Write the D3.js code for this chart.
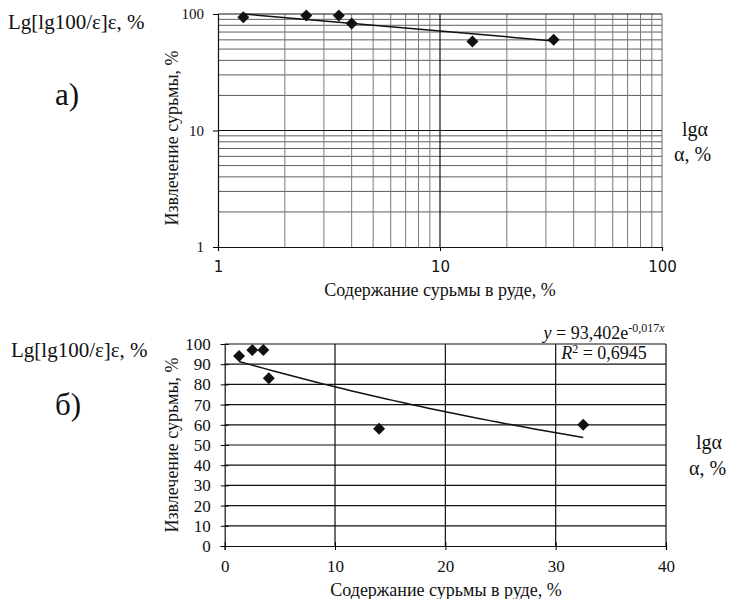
<!DOCTYPE html>
<html>
<head>
<meta charset="utf-8">
<script src="https://cdn.jsdelivr.net/npm/d3@7"></script>
<style>
  html, body { margin: 0; padding: 0; background: #fff; }
  svg { display: block; }
  text { font-family: "Liberation Serif", "Times New Roman", serif; fill: #111; }
</style>
</head>
<body>
<svg id="chart" width="734" height="599"></svg>
<script>
// Antimony content in ore (%) and antimony recovery (%)
const contentPct = [1.3, 2.5, 3.5, 4.0, 14.0, 32.5];
const recoveryPct = [94, 97, 97, 83, 58, 60];

// Tick values
const logTicks = [1, 10, 100];
const linXTicks = [0, 10, 20, 30, 40];
const linYTicks = [0, 10, 20, 30, 40, 50, 60, 70, 80, 90, 100];

// Trend coefficients: power trend (log-log panel), exponential trend (linear panel)
const powA = 104.4, powB = -0.165;
const expA = 93.402, expB = -0.017;

// Text
const axisTitleX = "Содержание сурьмы в руде,  %";
const axisTitleY = "Извлечение сурьмы,  %";
const sideLeft = "Lg[lg100/ε]ε, %";
const sideRight1 = "lgα";
const sideRight2 = "α, %";
const panelA = "а)";
const panelB = "б)";

const serif = "Liberation Serif";
const svg = d3.select("#chart");
const points = contentPct.map((x, i) => ({ x, y: recoveryPct[i] }));
const diamond = "M0,-6L6,0L0,6L-6,0Z";

/* ---------- Panel а): log-log ---------- */
const xTop = d3.scaleLog().domain([1, 100]).range([218, 662]);
const yTop = d3.scaleLog().domain([1, 100]).range([247, 14]);
const gA = svg.append("g");

const minorLog = [];
[1, 10].forEach(dec => { for (let k = 2; k <= 9; k++) minorLog.push(k * dec); });

// minor grid
gA.selectAll("line.hmin").data(minorLog).join("line")
  .attr("x1", xTop(1)).attr("x2", xTop(100))
  .attr("y1", d => yTop(d)).attr("y2", d => yTop(d))
  .attr("stroke", "#5e5e5e").attr("stroke-width", 1);
gA.selectAll("line.vmin").data(minorLog).join("line")
  .attr("y1", yTop(1)).attr("y2", yTop(100))
  .attr("x1", d => xTop(d)).attr("x2", d => xTop(d))
  .attr("stroke", "#7a7a7a").attr("stroke-width", 1);
// major grid + frame
gA.selectAll("line.hmaj").data([10, 100]).join("line")
  .attr("x1", xTop(1)).attr("x2", xTop(100))
  .attr("y1", d => yTop(d)).attr("y2", d => yTop(d))
  .attr("stroke", "#111").attr("stroke-width", 1);
gA.selectAll("line.vmaj").data([10]).join("line")
  .attr("y1", yTop(1)).attr("y2", yTop(100))
  .attr("x1", d => xTop(d)).attr("x2", d => xTop(d))
  .attr("stroke", "#111").attr("stroke-width", 1.2);
gA.append("line").attr("x1", xTop(100)).attr("x2", xTop(100))
  .attr("y1", yTop(1)).attr("y2", yTop(100)).attr("stroke", "#666");

// axes
const axYTop = gA.append("g").attr("transform", `translate(${xTop(1)},0)`)
  .call(d3.axisLeft(yTop).tickValues(logTicks).tickFormat(d3.format("d")).tickSizeOuter(0).tickSize(5).tickPadding(9));
axYTop.select(".domain").attr("stroke", "#111").attr("stroke-width", 1.2);
axYTop.selectAll("text").style("font-family", serif).style("font-size", "15px").attr("fill", "#111");

const axXTop = gA.append("g").attr("transform", `translate(0,${yTop(1)})`)
  .call(d3.axisBottom(xTop).tickValues(logTicks).tickFormat(d3.format("d")).tickSizeOuter(0).tickSize(4).tickPadding(10));
axXTop.select(".domain").attr("stroke", "#111").attr("stroke-width", 1.2);
axXTop.selectAll("text").style("font-family", "DejaVu Sans").style("font-size", "15px").attr("fill", "#222");

// power trend
const powLine = d3.line().x(d => xTop(d)).y(d => yTop(powA * Math.pow(d, powB)));
const xs = d3.extent(contentPct);
gA.append("path").datum(xs).attr("d", powLine)
  .attr("fill", "none").attr("stroke", "#111").attr("stroke-width", 1.5);

gA.selectAll("path.pt").data(points).join("path")
  .attr("d", diamond)
  .attr("transform", d => `translate(${xTop(d.x)},${yTop(d.y)})`)
  .attr("fill", "#111");

gA.append("text").attr("x", 440).attr("y", 296).attr("text-anchor", "middle")
  .style("font-size", "18px").text(axisTitleX);
gA.append("text").attr("transform", "translate(178,138) rotate(-90)").attr("text-anchor", "middle")
  .style("font-size", "18px").text(axisTitleY);

/* ---------- Panel б): linear ---------- */
const xBot = d3.scaleLinear().domain([0, 40]).range([224.7, 666]);
const yBot = d3.scaleLinear().domain([0, 100]).range([546, 344]);
const gB = svg.append("g");

gB.selectAll("line.hg").data(linYTicks.filter(d => d > 0)).join("line")
  .attr("x1", xBot(0)).attr("x2", xBot(40))
  .attr("y1", d => yBot(d)).attr("y2", d => yBot(d))
  .attr("stroke", "#111").attr("stroke-width", 1.2);
gB.selectAll("line.vg").data(linXTicks.filter(d => d > 0)).join("line")
  .attr("y1", yBot(0)).attr("y2", yBot(100))
  .attr("x1", d => xBot(d)).attr("x2", d => xBot(d))
  .attr("stroke", "#111").attr("stroke-width", 1.2);

const axYBot = gB.append("g").attr("transform", `translate(${xBot(0)},0)`)
  .call(d3.axisLeft(yBot).tickValues(linYTicks).tickSizeOuter(0).tickSize(4).tickPadding(10));
axYBot.select(".domain").attr("stroke", "#111").attr("stroke-width", 1.2);
axYBot.selectAll(".tick line").attr("x2", 4).attr("x1", -4);
axYBot.selectAll("text").style("font-family", serif).style("font-size", "17px").attr("fill", "#111");

const axXBot = gB.append("g").attr("transform", `translate(0,${yBot(0)})`)
  .call(d3.axisBottom(xBot).tickValues(linXTicks).tickSizeOuter(0).tickSize(4).tickPadding(10));
axXBot.select(".domain").attr("stroke", "#111").attr("stroke-width", 1.2);
axXBot.selectAll(".tick line").attr("y1", -4).attr("y2", 4);
axXBot.selectAll("text").style("font-family", serif).style("font-size", "17px").attr("fill", "#111");

// exponential trend
const expPts = d3.range(0, 41).map(i => xs[0] + (xs[1] - xs[0]) * i / 40);
gB.append("path").datum(expPts)
  .attr("d", d3.line().x(d => xBot(d)).y(d => yBot(expA * Math.exp(expB * d))))
  .attr("fill", "none").attr("stroke", "#111").attr("stroke-width", 1.5);

gB.selectAll("path.pt").data(points).join("path")
  .attr("d", diamond)
  .attr("transform", d => `translate(${xBot(d.x)},${yBot(d.y)})`)
  .attr("fill", "#111");

// trend equation
const eq = gB.append("text").attr("x", 604).attr("y", 339).attr("text-anchor", "middle").style("font-size", "18px");
eq.append("tspan").style("font-style", "italic").text("y");
eq.append("tspan").text(" = 93,402e");
eq.append("tspan").attr("dy", -7).style("font-size", "12px").text("-0,017");
eq.append("tspan").style("font-size", "12px").style("font-style", "italic").text("x");
const r2 = gB.append("text").attr("x", 604).attr("y", 359).attr("text-anchor", "middle").style("font-size", "18px");
r2.append("tspan").style("font-style", "italic").text("R");
r2.append("tspan").attr("dy", -6).style("font-size", "12px").text("2");
r2.append("tspan").attr("dy", 6).text(" = 0,6945");

gB.append("text").attr("x", 446).attr("y", 596).attr("text-anchor", "middle")
  .style("font-size", "18px").text(axisTitleX);
gB.append("text").attr("transform", "translate(178,445) rotate(-90)").attr("text-anchor", "middle")
  .style("font-size", "18px").text(axisTitleY);

/* ---------- Side captions ---------- */
const side = svg.append("g");
side.append("text").attr("x", 8).attr("y", 29).style("font-size", "21px").text(sideLeft);
side.append("text").attr("x", 55).attr("y", 105).style("font-size", "31px").text(panelA);
side.append("text").attr("x", 682).attr("y", 136).style("font-size", "20px").text(sideRight1);
side.append("text").attr("x", 674).attr("y", 161).style("font-size", "20px").text(sideRight2);

side.append("text").attr("x", 11).attr("y", 357).style("font-size", "21px").text(sideLeft);
side.append("text").attr("x", 55).attr("y", 415).style("font-size", "31px").text(panelB);
side.append("text").attr("x", 696).attr("y", 449).style("font-size", "20px").text(sideRight1);
side.append("text").attr("x", 689).attr("y", 475).style("font-size", "20px").text(sideRight2);
</script>
</body>
</html>
